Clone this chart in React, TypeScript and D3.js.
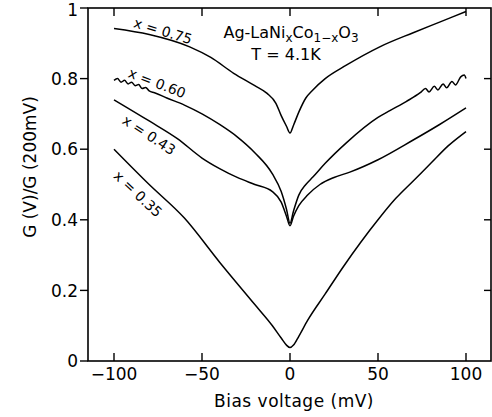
import * as d3 from "d3";

// G(V)/G(200mV) vs bias voltage for four compositions
const v75 = [-100, -80, -57, -45, -32, -20, -13, -8, -5, -2, 0, 2, 5, 9, 13, 20, 32, 51, 70, 85, 100];
const g75 = [0.942, 0.925, 0.89, 0.86, 0.815, 0.78, 0.758, 0.73, 0.695, 0.665, 0.646, 0.668, 0.705, 0.745, 0.768, 0.8, 0.838, 0.89, 0.93, 0.96, 0.99];

const v60 = [-100, -98, -96, -94, -92, -90, -88, -86, -84, -82, -80, -77, -70, -60, -50, -40, -30, -20, -10, -5, -2, 0, 2, 5, 9, 13, 20, 32, 50, 57, 66, 74, 77, 79, 82, 84, 87, 89, 92, 94, 97, 99, 100];
const g60 = [0.795, 0.8, 0.79, 0.795, 0.785, 0.79, 0.78, 0.783, 0.772, 0.775, 0.765, 0.76, 0.745, 0.725, 0.7, 0.67, 0.635, 0.59, 0.53, 0.48, 0.43, 0.39, 0.425, 0.47, 0.5, 0.521, 0.56, 0.618, 0.69, 0.71, 0.735, 0.76, 0.772, 0.762, 0.778, 0.768, 0.785, 0.774, 0.792, 0.782, 0.805, 0.81, 0.8];

const v43 = [-100, -80, -64, -50, -40, -30, -20, -10, -5, -2, 0, 2, 5, 10, 17, 25, 34, 50, 70, 85, 100];
const g43 = [0.74, 0.68, 0.63, 0.575, 0.545, 0.52, 0.5, 0.48, 0.45, 0.41, 0.383, 0.41, 0.44, 0.47, 0.5, 0.52, 0.535, 0.57, 0.626, 0.67, 0.717];

const v35 = [-100, -80, -60, -40, -20, -10, -5, -2, 0, 2, 5, 10, 20, 30, 40, 50, 60, 70, 80, 90, 100];
const g35 = [0.6, 0.5, 0.405, 0.28, 0.16, 0.1, 0.065, 0.045, 0.038, 0.045, 0.07, 0.115, 0.19, 0.265, 0.335, 0.4, 0.46, 0.51, 0.56, 0.61, 0.65];

const seriesNames = ["x = 0.75", "x = 0.60", "x = 0.43", "x = 0.35"];
const xTicks = [-100, -50, 0, 50, 100];
const yTicks = [0, 0.2, 0.4, 0.6, 0.8, 1];
const yTickLabels = ["0", "0.2", "0.4", "0.6", "0.8", "1"];

const W = 492, H = 417;
const left = 88, right = 491, top = 8, bottom = 361;
const font = "'DejaVu Sans', sans-serif";

export default function App() {
  const x = d3.scaleLinear().domain([-100, 100]).range([114, 466]);
  const y = d3.scaleLinear().domain([0, 1]).range([bottom, top]);
  const line = d3.line<[number, number]>()
    .x((d) => x(d[0]))
    .y((d) => y(d[1]))
    .curve(d3.curveMonotoneX);

  const series = [
    { v: v75, g: g75 },
    { v: v60, g: g60 },
    { v: v43, g: g43 },
    { v: v35, g: g35 },
  ];

  // label placement: centre and rotation
  const labelPos = [
    { cx: 163, cy: 31, rot: 17 },
    { cx: 157, cy: 83, rot: 21 },
    { cx: 149, cy: 135, rot: 33 },
    { cx: 138, cy: 194, rot: 43 },
  ];

  return (
    <svg width={W} height={H} style={{ position: "absolute", left: 0, top: 0, background: "#fff" }}
      fontFamily={font}>
      <rect x={left} y={top} width={right - left} height={bottom - top} fill="none" stroke="#000" strokeWidth={1.6} />

      {yTicks.map((t, i) => (
        <g key={"yl" + i}>
          <line x1={left - 8} x2={left} y1={y(t)} y2={y(t)} stroke="#000" strokeWidth={1.4} />
          <text x={78} y={Math.max(y(t), 10)} dy="0.36em" textAnchor="end" fontSize={17}>{yTickLabels[i]}</text>
          {t > 0 && t < 1 && (
            <line x1={right - 7} x2={right} y1={y(t)} y2={y(t)} stroke="#000" strokeWidth={1.4} />
          )}
        </g>
      ))}

      {xTicks.map((t) => (
        <g key={"xt" + t}>
          <line x1={x(t)} x2={x(t)} y1={bottom} y2={bottom - 8} stroke="#000" strokeWidth={1.4} />
          <line x1={x(t)} x2={x(t)} y1={top} y2={top + 8} stroke="#000" strokeWidth={1.4} />
          <text x={x(t)} y={380} textAnchor="middle" fontSize={17}>{t < 0 ? "\u2212" + Math.abs(t) : String(t)}</text>
        </g>
      ))}

      {series.map((s, i) => (
        <path key={"s" + i} d={line(s.v.map((v, j) => [v, s.g[j]] as [number, number])) || ""}
          fill="none" stroke="#000" strokeWidth={1.5} />
      ))}

      {seriesNames.map((n, i) => (
        <text key={"n" + i} transform={`translate(${labelPos[i].cx},${labelPos[i].cy}) rotate(${labelPos[i].rot})`}
          textAnchor="middle" dy="0.35em" fontSize={14}>{n}</text>
      ))}

      <text x={291} y={38} textAnchor="middle" fontSize={16}>
        Ag-LaNi<tspan fontSize={12} dy={4}>x</tspan>
        <tspan dy={-4}>Co</tspan><tspan fontSize={12} dy={4}>1−x</tspan>
        <tspan dy={-4}>O</tspan><tspan fontSize={12} dy={4}>3</tspan>
      </text>
      <text x={286} y={60} textAnchor="middle" fontSize={16}>T = 4.1K</text>

      <text x={294} y={407} textAnchor="middle" fontSize={17} letterSpacing={0.5}>Bias voltage (mV)</text>
      <text transform={`translate(36,167) rotate(-90)`} textAnchor="middle" fontSize={17}>G (V)/G (200mV)</text>
    </svg>
  );
}
